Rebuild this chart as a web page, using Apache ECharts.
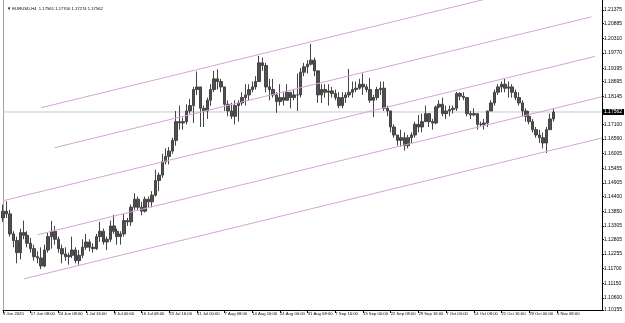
<!DOCTYPE html>
<html>
<head>
<meta charset="utf-8">
<script src="https://cdn.jsdelivr.net/npm/echarts@6/dist/echarts.min.js"></script>
<style>
  html, body { margin: 0; padding: 0; background: #fff; }
  #chart { width: 625px; height: 323px; }
</style>
</head>
<body>
<div id="chart"></div>
<script>
// EURUSD H4, each category = 4 H4 bars (16h)
const timeLabels = ["9 Jun 2020", "17 Jun 08:00", "24 Jun 08:00", "1 Jul 16:00", "9 Jul 00:00",
  "16 Jul 08:00", "23 Jul 16:00", "31 Jul 00:00", "7 Aug 08:00", "14 Aug 16:00", "24 Aug 00:00",
  "31 Aug 08:00", "7 Sep 16:00", "15 Sep 00:00", "22 Sep 08:00", "29 Sep 16:00", "7 Oct 00:00",
  "14 Oct 08:00", "21 Oct 16:00", "29 Oct 00:00", "5 Nov 08:00"];
const labelStep = 8;
const categoryCount = 174;

const highs = [1.1410,1.1422,1.1390,1.1310,1.1290,1.1320,1.1350,1.1310,1.1285,1.1260,
  1.1235,1.1250,1.1260,1.1305,1.1349,1.1330,1.1290,1.1260,1.1250,1.1230,
  1.1290,1.1250,1.1240,1.1280,1.1300,1.1280,1.1265,1.1300,1.1345,1.1320,
  1.1290,1.1350,1.1371,1.1320,1.1310,1.1375,1.1360,1.1410,1.1452,1.1440,
  1.1420,1.1440,1.1440,1.1460,1.1540,1.1530,1.1600,1.1620,1.1625,1.1660,
  1.1760,1.1780,1.1735,1.1785,1.1805,1.1850,1.1908,1.1850,1.1780,1.1810,
  1.1860,1.1910,1.1916,1.1880,1.1850,1.1800,1.1790,1.1800,1.1800,1.1830,
  1.1860,1.1860,1.1870,1.1890,1.1966,1.1960,1.1940,1.1880,1.1880,1.1830,
  1.1860,1.1830,1.1860,1.1830,1.1840,1.1900,1.1920,1.1940,1.1950,1.2011,
  1.1960,1.1900,1.1860,1.1860,1.1860,1.1850,1.1840,1.1830,1.1830,1.1830,
  1.1917,1.1870,1.1870,1.1880,1.1900,1.1860,1.1883,1.1820,1.1850,1.1870,
  1.1870,1.1780,1.1760,1.1710,1.1670,1.1690,1.1680,1.1670,1.1680,1.1720,
  1.1745,1.1750,1.1780,1.1750,1.1730,1.1780,1.1800,1.1810,1.1780,1.1780,
  1.1780,1.1831,1.1830,1.1830,1.1810,1.1760,1.1770,1.1750,1.1720,1.1730,
  1.1760,1.1800,1.1840,1.1860,1.1870,1.1880,1.1870,1.1860,1.1840,1.1830,
  1.1800,1.1770,1.1760,1.1730,1.1700,1.1690,1.1680,1.1700,1.1750,1.1770];
const lows = [1.1345,1.1360,1.1290,1.1250,1.1190,1.1205,1.1280,1.1250,1.1230,1.1200,
  1.1190,1.1168,1.1175,1.1230,1.1245,1.1260,1.1230,1.1190,1.1200,1.1185,
  1.1210,1.1190,1.1185,1.1210,1.1240,1.1235,1.1230,1.1240,1.1270,1.1260,
  1.1240,1.1270,1.1300,1.1260,1.1260,1.1290,1.1330,1.1330,1.1390,1.1390,
  1.1370,1.1380,1.1400,1.1400,1.1440,1.1460,1.1510,1.1560,1.1560,1.1600,
  1.1630,1.1690,1.1690,1.1710,1.1750,1.1715,1.1820,1.1700,1.1700,1.1730,
  1.1780,1.1830,1.1840,1.1830,1.1760,1.1740,1.1730,1.1710,1.1720,1.1780,
  1.1780,1.1800,1.1830,1.1840,1.1870,1.1910,1.1830,1.1800,1.1810,1.1753,
  1.1780,1.1780,1.1800,1.1770,1.1800,1.1760,1.1810,1.1890,1.1900,1.1930,
  1.1890,1.1790,1.1790,1.1810,1.1780,1.1810,1.1800,1.1770,1.1770,1.1790,
  1.1810,1.1810,1.1830,1.1840,1.1820,1.1830,1.1790,1.1737,1.1800,1.1820,
  1.1760,1.1740,1.1680,1.1660,1.1630,1.1627,1.1612,1.1620,1.1640,1.1660,
  1.1680,1.1680,1.1720,1.1700,1.1690,1.1710,1.1770,1.1740,1.1730,1.1740,
  1.1750,1.1760,1.1800,1.1800,1.1740,1.1730,1.1740,1.1690,1.1700,1.1690,
  1.1700,1.1760,1.1780,1.1820,1.1830,1.1830,1.1810,1.1810,1.1800,1.1780,
  1.1740,1.1720,1.1710,1.1680,1.1660,1.1640,1.1620,1.1603,1.1690,1.1720];
const closes = [1.1385,1.1375,1.1300,1.1275,1.1230,1.1305,1.1295,1.1265,1.1245,1.1215,
  1.1210,1.1180,1.1240,1.1290,1.1310,1.1280,1.1245,1.1225,1.1215,1.1220,
  1.1240,1.1200,1.1220,1.1250,1.1270,1.1250,1.1245,1.1290,1.1310,1.1270,
  1.1280,1.1330,1.1310,1.1290,1.1300,1.1350,1.1345,1.1400,1.1430,1.1400,
  1.1385,1.1430,1.1420,1.1445,1.1500,1.1520,1.1570,1.1590,1.1610,1.1650,
  1.1720,1.1715,1.1720,1.1760,1.1780,1.1840,1.1850,1.1770,1.1760,1.1800,
  1.1840,1.1880,1.1870,1.1850,1.1785,1.1760,1.1740,1.1780,1.1790,1.1810,
  1.1820,1.1840,1.1850,1.1870,1.1940,1.1930,1.1850,1.1840,1.1820,1.1795,
  1.1810,1.1800,1.1830,1.1810,1.1820,1.1820,1.1905,1.1925,1.1935,1.1950,
  1.1910,1.1820,1.1840,1.1830,1.1835,1.1825,1.1810,1.1780,1.1810,1.1820,
  1.1830,1.1840,1.1845,1.1860,1.1850,1.1840,1.1800,1.1810,1.1840,1.1845,
  1.1770,1.1760,1.1700,1.1670,1.1650,1.1660,1.1630,1.1660,1.1670,1.1710,
  1.1700,1.1720,1.1750,1.1720,1.1715,1.1775,1.1785,1.1750,1.1760,1.1765,
  1.1770,1.1825,1.1815,1.1810,1.1750,1.1745,1.1750,1.1710,1.1710,1.1715,
  1.1760,1.1790,1.1830,1.1850,1.1860,1.1845,1.1850,1.1830,1.1810,1.1790,
  1.1760,1.1740,1.1720,1.1690,1.1670,1.1660,1.1640,1.1690,1.1730,1.1756];
const firstOpen = 1.1360;

// last bar readout: open, high, low, close
const lastBar = [1.17561, 1.17700, 1.17274, 1.17562];

// price scale tick labels on the right
const priceTicks = [1.10155, 1.10600, 1.11150, 1.11700, 1.12255, 1.12805, 1.13305, 1.13850,
  1.14400, 1.14905, 1.15455, 1.16005, 1.16560, 1.17100, 1.17650, 1.18145, 1.18695, 1.19195,
  1.19770, 1.20310, 1.20885, 1.21375];
const priceMin = 1.10155;
const priceMax = 1.2175;

// parallel channel lines: [startIndex, startPrice, endIndex, endPrice]
const channels = [
  [10.6, 1.1772, 150, 1.2212],
  [14.9, 1.1623, 169.5, 1.2112],
  [0, 1.1424, 171, 1.1964],
  [9.8, 1.1297, 173, 1.1813],
  [6.3, 1.1132, 173, 1.1659]
];

const font = "'Liberation Sans', Arial, sans-serif";

const categories = [];
for (let i = 0; i < categoryCount; i++) {
  categories.push(i % labelStep === 0 && timeLabels[i / labelStep] ? timeLabels[i / labelStep] : '');
}

// the price box hides the scale label right under it
const priceLabels = priceTicks.filter(v => Math.abs(v - lastBar[3]) > 0.002);

const ohlc = closes.map((c, i) => [i === 0 ? firstOpen : closes[i - 1], c, lows[i], highs[i]]);

const chart = echarts.init(document.getElementById('chart'));

const series = [{
  type: 'candlestick',
  data: ohlc,
  barWidth: 3,
  itemStyle: { color: '#505050', color0: '#505050', borderColor: '#444', borderColor0: '#444', borderWidth: 1 },
  silent: true
}];
channels.forEach(c => {
  series.push({
    type: 'line',
    data: [[c[0], c[1]], [c[2], c[3]]],
    symbol: 'none',
    silent: true,
    lineStyle: { color: '#d6a4d6', width: 1 }
  });
});
// current bid line with its price box on the scale
series.push({
  type: 'line',
  data: [[0, lastBar[3]], [categoryCount - 1, lastBar[3]]],
  symbol: 'none',
  silent: true,
  z: 1,
  lineStyle: { color: '#c8c8c8', width: 1 },
  endLabel: {
    show: true, distance: 1,
    formatter: () => lastBar[3].toFixed(5),
    color: '#fff', backgroundColor: '#000', padding: [1, 2, 0, 1],
    fontSize: 5, fontFamily: font
  }
});

chart.setOption({
  animation: false,
  backgroundColor: '#fff',
  title: {
    text: '▼ EURUSD,H4  ' + lastBar.map(v => v.toFixed(5)).join(' '),
    left: 2, top: 2,
    textStyle: { fontSize: 4.2, fontWeight: 'normal', color: '#000', fontFamily: font }
  },
  grid: { left: 3, right: 20, top: 0, bottom: 13 },
  xAxis: {
    type: 'category',
    data: categories,
    boundaryGap: false,
    axisLine: { lineStyle: { color: '#000', width: 1 } },
    axisTick: { show: true, length: 3, interval: (i, v) => v !== '', lineStyle: { color: '#000' } },
    axisLabel: {
      interval: (i, v) => v !== '',
      align: 'left', margin: 2,
      fontSize: 4.2, color: '#000', fontFamily: font
    },
    splitLine: { show: false }
  },
  yAxis: [{
    type: 'value',
    position: 'right',
    min: priceMin, max: priceMax,
    axisLine: { show: true, lineStyle: { color: '#000', width: 1 } },
    axisTick: { show: true, length: 2, customValues: priceTicks, lineStyle: { color: '#000' } },
    axisLabel: {
      customValues: priceLabels, margin: 2,
      formatter: v => v.toFixed(5),
      fontSize: 5, color: '#000', fontFamily: font
    },
    splitLine: { show: false }
  }, {
    type: 'value',
    position: 'left',
    min: priceMin, max: priceMax,
    axisLine: { show: true, lineStyle: { color: '#a0a0a0', width: 1 } },
    axisTick: { show: false },
    axisLabel: { show: false },
    splitLine: { show: false }
  }],
  series: series
});
</script>
</body>
</html>
